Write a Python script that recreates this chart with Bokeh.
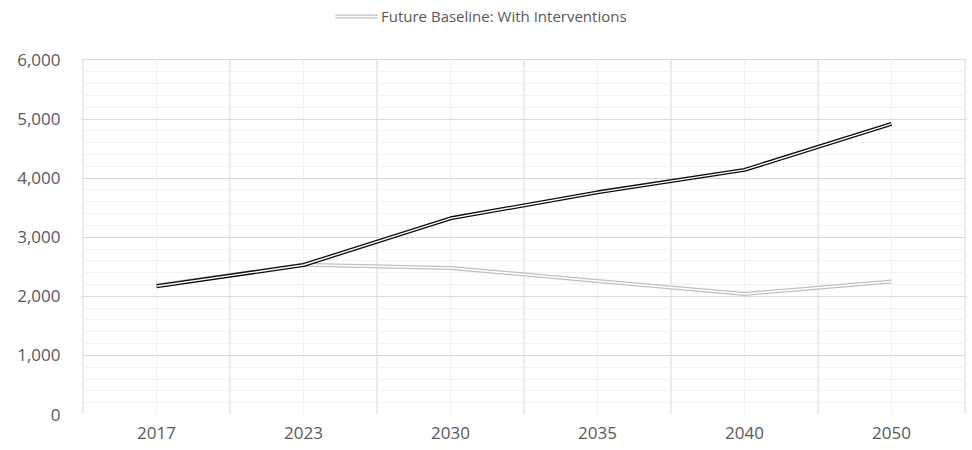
from bokeh.plotting import figure
from bokeh.models import (ColumnDataSource, Range1d, FixedTicker, Legend, LegendItem,
                          NumeralTickFormatter)
from bokeh.embed import file_html
from bokeh.resources import INLINE

years = ["2017", "2023", "2030", "2035", "2040", "2050"]
baseline_no_interventions = [2170, 2530, 3320, 3760, 4140, 4920]
baseline_with_interventions = [2185, 2535, 2480, 2260, 2040, 2250]
y_ticks = [0, 1000, 2000, 3000, 4000, 5000, 6000]
y_minor = [v for v in range(0, 6001, 200)]
y_max = 6000

xpos = [i + 0.5 for i in range(len(years))]
xbounds = list(range(len(years) + 1))
src = ColumnDataSource(dict(x=xpos, black=baseline_no_interventions,
                            gray=baseline_with_interventions))

FONT = "Open Sans"
TXT = "#595959"

# frame spans the full height so the legend (drawn in the frame) can sit on top;
# grid lines are limited to 0..6000 so the visible plot area matches the reference
p = figure(width=972, height=450, output_backend="svg", toolbar_location=None,
           x_range=Range1d(-0.01, len(years) + 0.01), y_range=Range1d(0, 7007),
           min_border_left=81, min_border_right=6, min_border_top=0,
           min_border_bottom=36, background_fill_color="white",
           border_fill_color="white", outline_line_color=None)

# axes
p.xaxis.ticker = FixedTicker(ticks=xpos)
p.xaxis.major_label_overrides = {x: y for x, y in zip(xpos, years)}
p.yaxis.ticker = FixedTicker(ticks=y_ticks)
p.yaxis.formatter = NumeralTickFormatter(format="0,0")
for ax in (p.xaxis[0], p.yaxis[0]):
    ax.axis_line_color = None
    ax.major_tick_line_color = None
    ax.minor_tick_line_color = None
    ax.major_label_text_font = FONT
    ax.major_label_text_font_size = "17px"
    ax.major_label_text_color = TXT
p.xaxis.major_label_standoff = 6
p.yaxis.major_label_standoff = 15

# horizontal grid
p.xgrid.visible = False
p.ygrid.ticker = FixedTicker(ticks=y_ticks, minor_ticks=y_minor)
p.ygrid.grid_line_color = "#d9d9d9"
p.ygrid.minor_grid_line_color = "#f2f2f2"
p.ygrid.bounds = (0, len(years))

# vertical grid (minor at categories, major between categories), bounded to 0..6000
p.segment(x0=xpos, y0=[0] * len(xpos), x1=xpos, y1=[y_max] * len(xpos),
          line_color="#f2f2f2", line_width=1, level="underlay")
p.segment(x0=xbounds, y0=[0] * len(xbounds), x1=xbounds, y1=[y_max] * len(xbounds),
          line_color="#d9d9d9", line_width=1, level="underlay")

# double (compound) lines
g_out = p.line("x", "gray", source=src, line_color="#c0c0c0", line_width=4)
g_in = p.line("x", "gray", source=src, line_color="white", line_width=1.4)
b_out = p.line("x", "black", source=src, line_color="#0d0d0d", line_width=4)
b_in = p.line("x", "black", source=src, line_color="white", line_width=1.4)

legend = Legend(items=[LegendItem(label="Future Baseline: With Interventions",
                                  renderers=[g_out, g_in])],
                orientation="horizontal", location=(250, 384),
                label_text_font=FONT, label_text_font_size="15px",
                label_text_color=TXT, glyph_width=43, glyph_height=10,
                label_standoff=3, border_line_alpha=0,
                background_fill_alpha=0, padding=4, margin=0)
p.add_layout(legend, "center")

open("out.html", "w").write(file_html(p, INLINE))
